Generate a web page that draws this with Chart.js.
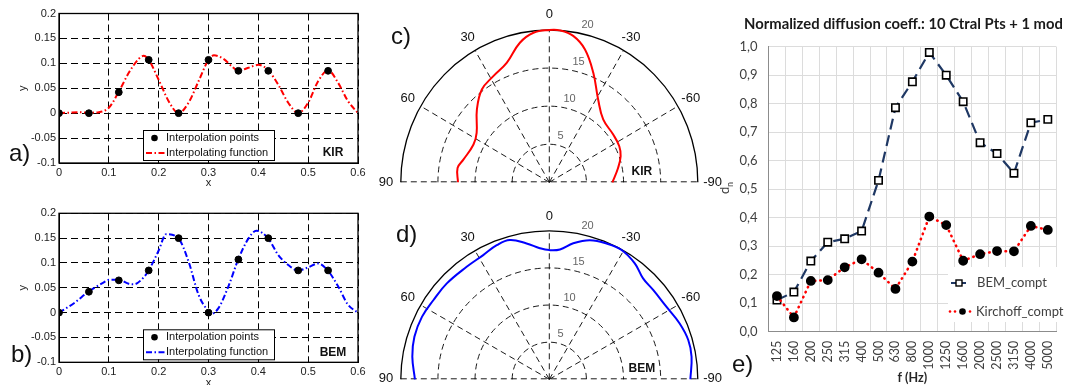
<!DOCTYPE html>
<html>
<head>
<meta charset="utf-8">
<script src="https://cdn.jsdelivr.net/npm/chart.js@4"></script>
<style>
  html, body { margin: 0; padding: 0; background: #fff; }
  body { width: 1066px; height: 385px; position: relative; overflow: hidden; font-family: "Liberation Sans", Arial, sans-serif; }
  canvas { position: absolute; }
  .tag { position: absolute; font-size: 24px; line-height: 24px; color: #111; }
</style>
</head>
<body>
<canvas id="chart-a" width="370" height="190" style="left:0;top:0"></canvas>
<canvas id="chart-b" width="370" height="200" style="left:0;top:190px"></canvas>
<canvas id="chart-c" width="380" height="190" style="left:360px;top:0"></canvas>
<canvas id="chart-d" width="380" height="195" style="left:360px;top:190px"></canvas>
<canvas id="chart-e" width="352" height="385" style="left:720px;top:0"></canvas>
<div class="tag" style="left:9px;top:141px">a)</div>
<div class="tag" style="left:11px;top:342px">b)</div>
<div class="tag" style="left:391px;top:24px">c)</div>
<div class="tag" style="left:396px;top:222px">d)</div>
<div class="tag" style="left:732px;top:352px">e)</div>

<script>
// --- interpolation panels (a, b) ---
const interpX = [0, 0.06, 0.12, 0.18, 0.24, 0.30, 0.36, 0.42, 0.48, 0.54];
const kirPointsY = [0, 0, 0.042, 0.107, 0, 0.107, 0.085, 0.085, 0, 0.085];
const bemPointsY = [0, 0.042, 0.065, 0.085, 0.15, 0, 0.107, 0.15, 0.085, 0.085];

const kirFuncX = [0, 0.02, 0.04, 0.06, 0.08, 0.10, 0.12, 0.14, 0.16, 0.17, 0.18, 0.20, 0.22, 0.24, 0.26, 0.28, 0.30, 0.311, 0.33, 0.35, 0.36, 0.38, 0.40, 0.42, 0.44, 0.46, 0.48, 0.50, 0.52, 0.54, 0.56, 0.58, 0.60];
const kirFuncY = [0, 0.001, 0.002, 0.001, 0.002, 0.011, 0.043, 0.081, 0.109, 0.115, 0.107, 0.067, 0.024, 0, 0.021, 0.064, 0.107, 0.116, 0.109, 0.091, 0.085, 0.091, 0.097, 0.086, 0.057, 0.021, 0, 0.021, 0.064, 0.086, 0.061, 0.024, 0];

const bemFuncX = [0, 0.03, 0.06, 0.09, 0.10, 0.12, 0.14, 0.15, 0.17, 0.18, 0.20, 0.215, 0.24, 0.26, 0.28, 0.30, 0.305, 0.32, 0.34, 0.36, 0.38, 0.396, 0.42, 0.44, 0.46, 0.48, 0.50, 0.52, 0.54, 0.56, 0.58, 0.60];
const bemFuncY = [0, 0.019, 0.043, 0.061, 0.066, 0.066, 0.058, 0.057, 0.071, 0.085, 0.125, 0.158, 0.149, 0.103, 0.036, 0.002, -0.003, 0.009, 0.053, 0.108, 0.149, 0.165, 0.149, 0.116, 0.096, 0.085, 0.091, 0.099, 0.084, 0.053, 0.016, 0];

// --- polar panels (c, d): angle in degrees, radius ---
const kirAngle  = [90, 81.3, 75.6, 64.1, 56.4, 45.6, 36.7, 28.4, 20.1, 12.2, 6.2, 0, -4.1, -9.5, -15.4, -22.4, -31.2, -41.3, -53.9, -63.3, -70.4, -78.5, -90];
const kirRadius = [12.3, 12.5, 11.95, 11.35, 11.75, 13.65, 15.2, 15.85, 16.7, 18.75, 19.75, 20, 20, 19.5, 18.1, 15.55, 12.7, 11.0, 10.65, 10.55, 10.2, 9.45, 8.5];

const bemAngle  = [90, 80.6, 72.5, 63.9, 55.6, 46.9, 36.3, 28, 21.4, 15.8, 9.5, 4.1, 0, -4.7, -10, -16.3, -22.9, -29.2, -36.4, -42.9, -49.3, -58.2, -66.8, -74.2, -81, -90];
const bemRadius = [18.1, 18.7, 19.05, 19.1, 18.9, 18.9, 18.8, 18.95, 19.4, 19.5, 18.55, 17.7, 17.4, 17.55, 18.6, 19.5, 19.85, 19.95, 19.4, 18.55, 18.45, 18.55, 19.1, 19.45, 19.4, 19.0];

const ringValues = [5, 10, 15];
const spokeAngles = [-60, -30, 0, 30, 60];
const angleLabels = [90, 60, 30, 0, -30, -60, -90];

// --- diffusion coefficient panel (e) ---
const freqLabels = ['125', '160', '200', '250', '315', '400', '500', '630', '800', '1000', '1250', '1600', '2000', '2500', '3150', '4000', '5000'];
const bemCompt = [0.111, 0.139, 0.248, 0.314, 0.326, 0.353, 0.531, 0.786, 0.877, 0.980, 0.900, 0.807, 0.663, 0.625, 0.556, 0.733, 0.745];
const kirchoffCompt = [0.125, 0.05, 0.178, 0.181, 0.226, 0.254, 0.207, 0.150, 0.246, 0.404, 0.374, 0.249, 0.272, 0.283, 0.282, 0.371, 0.357];

const sans = '"Liberation Sans", Arial, sans-serif';
const excelFont = 'Lato, "Open Sans", sans-serif';
const dashDot = [6, 2.5, 1.5, 2.5];

function fmt(v) {
    return String(parseFloat(v.toFixed(2)));
}

// frame + legend box for the matlab style plots
function interpDecor(color, tag) {
    return {
        id: 'interpDecor',
        afterDraw(chart) {
            const ctx = chart.ctx;
            const ca = chart.chartArea;
            ctx.save();
            ctx.setLineDash([]);
            ctx.strokeStyle = '#000';
            ctx.lineWidth = 1.3;
            ctx.strokeRect(ca.left, ca.top, ca.right - ca.left, ca.bottom - ca.top);

            const bx = ca.left + 84, by = ca.bottom - 33, bw = 131, bh = 30;
            ctx.fillStyle = '#fff';
            ctx.fillRect(bx, by, bw, bh);
            ctx.lineWidth = 1;
            ctx.strokeRect(bx + 0.5, by + 0.5, bw, bh);

            ctx.fillStyle = '#000';
            ctx.beginPath();
            ctx.arc(bx + 11.5, by + 8, 3.3, 0, Math.PI * 2);
            ctx.fill();

            ctx.strokeStyle = color;
            ctx.lineWidth = 2;
            ctx.setLineDash(dashDot);
            ctx.beginPath();
            ctx.moveTo(bx + 3, by + 23);
            ctx.lineTo(bx + 22, by + 23);
            ctx.stroke();
            ctx.setLineDash([]);

            ctx.fillStyle = '#111';
            ctx.font = '11px ' + sans;
            ctx.textBaseline = 'middle';
            ctx.textAlign = 'left';
            ctx.fillText('Interpolation points', bx + 23, by + 8);
            ctx.fillText('Interpolating function', bx + 23, by + 23);

            ctx.font = 'bold 12px ' + sans;
            ctx.textAlign = 'center';
            ctx.fillText(tag, ca.right - 25, ca.bottom - 10);
            ctx.restore();
        }
    };
}

function interpChart(id, pointsY, funcX, funcY, color, tag, padTop, xHeight) {
    const ctx = document.getElementById(id).getContext('2d');
    const tickFont = { family: sans, size: 11 };
    const gridStyle = { color: '#000', lineWidth: 1, drawTicks: false };
    return new Chart(ctx, {
        type: 'scatter',
        data: {
            datasets: [
                {
                    label: 'Interpolation points',
                    data: interpX.map((x, i) => ({ x: x, y: pointsY[i] })),
                    pointRadius: 3.4,
                    backgroundColor: '#000',
                    borderColor: '#000',
                    order: 1
                },
                {
                    label: 'Interpolating function',
                    data: funcX.map((x, i) => ({ x: x, y: funcY[i] })),
                    showLine: true,
                    borderColor: color,
                    borderWidth: 2,
                    borderDash: dashDot,
                    pointRadius: 0,
                    cubicInterpolationMode: 'monotone',
                    order: 2
                }
            ]
        },
        options: {
            responsive: false,
            animation: false,
            layout: { padding: { top: padTop, right: 12, bottom: 0, left: 0 } },
            plugins: { legend: { display: false }, tooltip: { enabled: false } },
            scales: {
                x: {
                    min: 0, max: 0.6,
                    ticks: { stepSize: 0.1, callback: fmt, font: tickFont, color: '#222', padding: 3, maxRotation: 0 },
                    grid: gridStyle,
                    border: { color: '#000', dash: [7, 4] },
                    title: { display: true, text: 'x', font: { family: sans, size: 11 }, color: '#222', padding: { top: 0, bottom: 0 } },
                    afterFit: s => { s.height = xHeight; }
                },
                y: {
                    min: -0.1, max: 0.2,
                    ticks: { stepSize: 0.05, callback: fmt, font: tickFont, color: '#222', padding: 3 },
                    grid: gridStyle,
                    border: { color: '#000', dash: [7, 4] },
                    title: { display: true, text: 'y', font: { family: sans, size: 11 }, color: '#222', padding: { top: 16.5, bottom: 0 } },
                    afterFit: s => { s.width = 59; }
                }
            }
        },
        plugins: [interpDecor(color, tag)]
    });
}

interpChart('chart-a', kirPointsY, kirFuncX, kirFuncY, '#ff0000', 'KIR', 13.5, 27);
interpChart('chart-b', bemPointsY, bemFuncX, bemFuncY, '#0000ff', 'BEM', 23.3, 27.7);

// polar grid drawn with the chart's own x/y scales
function polarGrid(tag) {
    return {
        id: 'polarGrid',
        beforeDatasetsDraw(chart) {
            const ctx = chart.ctx;
            const x = chart.scales.x, y = chart.scales.y;
            const cx = x.getPixelForValue(0), cy = y.getPixelForValue(0);
            const kx = x.getPixelForValue(1) - cx, ky = cy - y.getPixelForValue(1);
            const P = (r, a) => [cx - r * Math.sin(a * Math.PI / 180) * kx, cy - r * Math.cos(a * Math.PI / 180) * ky];

            ctx.save();
            ctx.strokeStyle = '#000';
            ctx.lineWidth = 0.9;
            ctx.setLineDash([6, 4]);
            ringValues.forEach(r => {
                ctx.beginPath();
                ctx.ellipse(cx, cy, r * kx, r * ky, 0, Math.PI, 2 * Math.PI);
                ctx.stroke();
            });
            spokeAngles.forEach(a => {
                const p = P(20, a);
                ctx.beginPath();
                ctx.moveTo(cx, cy);
                ctx.lineTo(p[0], p[1]);
                ctx.stroke();
            });
            ctx.beginPath();
            ctx.moveTo(cx - 20 * kx, cy - 0.5);
            ctx.lineTo(cx + 20 * kx, cy - 0.5);
            ctx.stroke();

            ctx.setLineDash([]);
            ctx.lineWidth = 1.3;
            ctx.beginPath();
            ctx.ellipse(cx, cy, 20 * kx, 20 * ky, 0, Math.PI, 2 * Math.PI);
            ctx.stroke();

            ctx.textAlign = 'center';
            ctx.textBaseline = 'middle';
            ctx.fillStyle = '#111';
            ctx.font = '13px ' + sans;
            angleLabels.forEach(a => {
                const p = P(22, a);
                ctx.fillText(String(a), p[0], Math.min(p[1], chart.height - 7));
            });

            ctx.fillStyle = '#666';
            ctx.font = '11px ' + sans;
            ringValues.concat([20]).forEach(r => {
                const p = P(r + 1.3, -14);
                ctx.fillText(String(r), p[0], p[1]);
            });

            ctx.fillStyle = '#111';
            ctx.font = 'bold 12px ' + sans;
            ctx.fillText(tag, cx + 92.5, cy - 10.5);
            ctx.restore();
        }
    };
}

function polarChart(id, angles, radii, color, tag, yMin, yMax) {
    const ctx = document.getElementById(id).getContext('2d');
    const curve = angles.map((a, i) => ({
        x: -radii[i] * Math.sin(a * Math.PI / 180),
        y: radii[i] * Math.cos(a * Math.PI / 180)
    }));
    return new Chart(ctx, {
        type: 'scatter',
        data: {
            datasets: [{
                data: curve,
                showLine: true,
                borderColor: color,
                borderWidth: 2,
                pointRadius: 0,
                tension: 0.4
            }]
        },
        options: {
            responsive: false,
            animation: false,
            layout: { padding: 0 },
            plugins: { legend: { display: false }, tooltip: { enabled: false } },
            scales: {
                x: { display: false, min: -25.495, max: 25.684 },
                y: { display: false, min: yMin, max: yMax }
            }
        },
        plugins: [polarGrid(tag)]
    });
}

polarChart('chart-c', kirAngle, kirRadius, '#ff0000', 'KIR', -1.011, 23.94);
polarChart('chart-d', bemAngle, bemRadius, '#0000ff', 'BEM', -0.768, 25.495);

// panel e: title, y label and in-plot legend
const diffusionDecor = {
    id: 'diffusionDecor',
    afterDraw(chart) {
        const ctx = chart.ctx;
        ctx.save();
        ctx.fillStyle = '#1a1a1a';
        ctx.font = 'bold 14.8px ' + excelFont;
        ctx.textAlign = 'center';
        ctx.textBaseline = 'middle';
        ctx.fillText('Normalized diffusion coeff.: 10 Ctral Pts + 1 mod', 183.5, 24);

        // y label d_n
        ctx.translate(9, 190);
        ctx.rotate(-Math.PI / 2);
        ctx.font = '13px ' + excelFont;
        ctx.textAlign = 'left';
        ctx.textBaseline = 'alphabetic';
        ctx.fillStyle = '#404040';
        ctx.fillText('d', -4, 0);
        ctx.font = '9px ' + excelFont;
        ctx.fillText('n', 3, 4);
        ctx.setTransform(1, 0, 0, 1, 0, 0);

        // legend
        const lx = 228, ly = 267;
        ctx.fillStyle = '#fff';
        ctx.fillRect(lx, ly, 130, 55);
        ctx.strokeStyle = '#1f3864';
        ctx.lineWidth = 2;
        ctx.beginPath();
        ctx.moveTo(lx + 3, ly + 16);
        ctx.lineTo(lx + 18, ly + 16);
        ctx.stroke();
        ctx.fillStyle = '#fff';
        ctx.strokeStyle = '#000';
        ctx.lineWidth = 1.4;
        ctx.fillRect(lx + 8, ly + 13, 6, 6);
        ctx.strokeRect(lx + 8, ly + 13, 6, 6);

        ctx.fillStyle = '#ff0000';
        [2, 7, 22].forEach(dx => {
            ctx.beginPath();
            ctx.arc(lx + dx, ly + 44.5, 1.3, 0, Math.PI * 2);
            ctx.fill();
        });
        ctx.fillStyle = '#000';
        ctx.beginPath();
        ctx.arc(lx + 14.5, ly + 44.5, 3.3, 0, Math.PI * 2);
        ctx.fill();

        ctx.fillStyle = '#404040';
        ctx.font = '13px ' + excelFont;
        ctx.textAlign = 'left';
        ctx.textBaseline = 'middle';
        ctx.fillText('BEM_compt', lx + 29, ly + 16);
        ctx.fillText('Kirchoff_compt', lx + 28, ly + 44.5);
        ctx.restore();
    }
};

new Chart(document.getElementById('chart-e').getContext('2d'), {
    type: 'line',
    data: {
        labels: freqLabels,
        datasets: [
            {
                label: 'BEM_compt',
                data: bemCompt,
                borderColor: '#1f3864',
                borderWidth: 2.2,
                borderDash: [11, 6],
                pointStyle: 'rect',
                pointRadius: 5.2,
                pointBorderColor: '#000',
                pointBackgroundColor: '#fff',
                pointBorderWidth: 1.6,
                tension: 0,
                order: 2
            },
            {
                label: 'Kirchoff_compt',
                data: kirchoffCompt,
                borderColor: '#ff0000',
                borderWidth: 2.6,
                borderDash: [0.5, 5],
                borderCapStyle: 'round',
                pointStyle: 'circle',
                pointRadius: 3.6,
                pointBorderColor: '#000',
                pointBackgroundColor: '#000',
                tension: 0,
                order: 1
            }
        ]
    },
    options: {
        responsive: false,
        animation: false,
        layout: { padding: { top: 46.7, right: 4, bottom: 0, left: 0 } },
        plugins: { legend: { display: false }, tooltip: { enabled: false } },
        scales: {
            x: {
                offset: true,
                grid: { offset: true, color: '#dcdcdc', drawTicks: false },
                border: { color: '#8c8c8c' },
                ticks: { minRotation: 90, maxRotation: 90, autoSkip: false, padding: 9, color: '#404040', font: { family: excelFont, size: 12.5 } },
                title: { display: true, text: 'f (Hz)', color: '#262626', font: { family: excelFont, size: 12.5, weight: 'bold' }, padding: { top: 4, bottom: 0 } },
                afterFit: s => { s.height = 53.3; }
            },
            y: {
                min: 0, max: 1,
                grid: { color: '#dcdcdc', drawTicks: false },
                border: { color: '#8c8c8c' },
                ticks: { stepSize: 0.1, padding: 11, color: '#404040', font: { family: excelFont, size: 13 },
                    callback: v => v.toFixed(1).replace('.', ',') },
                afterFit: s => { s.width = 48.5; }
            }
        }
    },
    plugins: [diffusionDecor]
});
</script>
</body>
</html>
